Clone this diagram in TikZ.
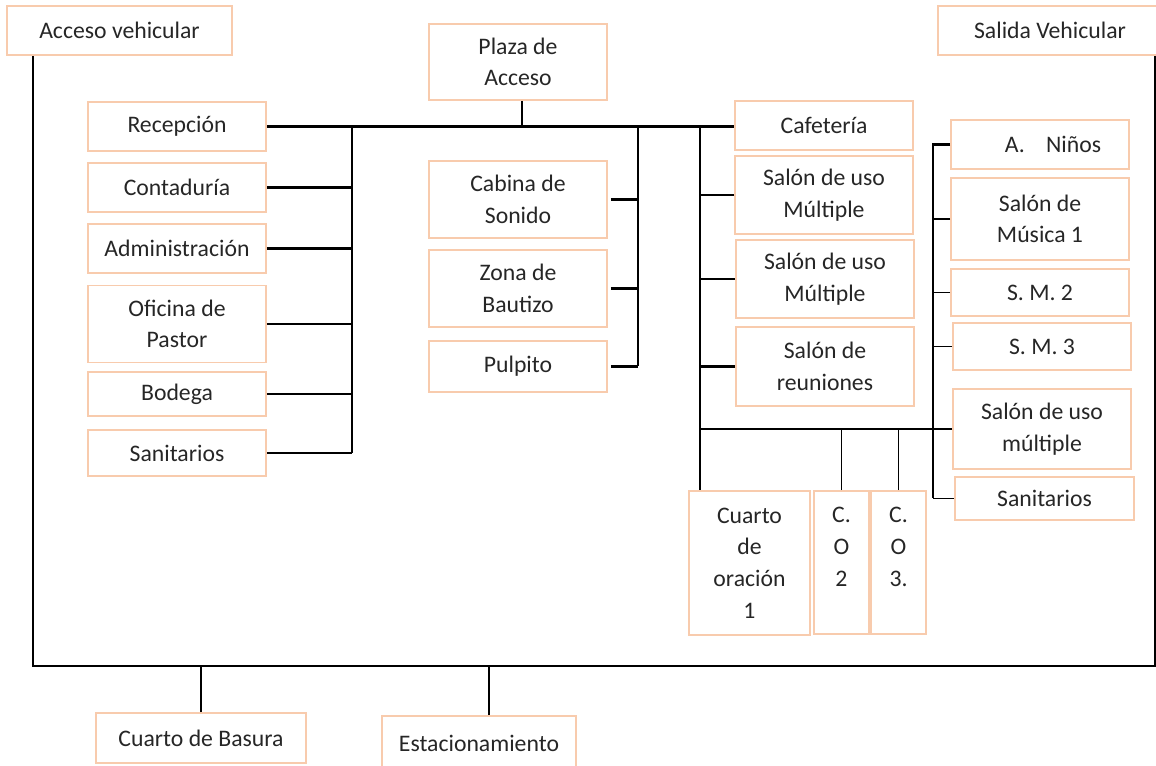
\documentclass[tikz,border=0pt]{standalone}
\usepackage{fontspec}
\setmainfont{Carlito}
\usetikzlibrary{calc}
\definecolor{peach}{HTML}{F8CBAD}
\definecolor{ink}{HTML}{262626}

\begin{document}
\begin{tikzpicture}[x=0.02cm,y=-0.02cm,
    room/.style={draw=peach,line width=0.9pt,text=ink,align=center,
      minimum width=3.56cm,minimum height=0.98cm,inner sep=0pt,
      font=\fontsize{13.5}{18}\selectfont},
    tall/.style={room,minimum height=1.54cm},
    bus/.style={line width=1.4pt},
    tap/.style={line width=0.7pt}]
    \useasboundingbox (0,0) rectangle (1156,766);

    \node[room,minimum width=4.5cm]  (acc) at (119.5,30.5) {Acceso vehicular};
    \node[room,minimum width=4.48cm] (sal) at (1050,30.5)  {Salida Vehicular};
    \node[tall,minimum height=1.52cm] (plaza) at (518,62) {Plaza de\\Acceso};

    \node[room] (recep)  at (177,126.5) {Recepción};
    \node[room] (conta)  at (177,187.5) {Contaduría};
    \node[room] (admin)  at (177,248.5) {Administración};
    \node[tall] (ofic)   at (177,324)   {Oficina de\\Pastor};
    \node[room,minimum height=0.88cm] (bodega) at (177,394) {Bodega};
    \node[room,minimum height=0.92cm] (sanl)   at (177,453) {Sanitarios};

    \node[tall] (cabina)  at (518,199.5) {Cabina de\\Sonido};
    \node[tall] (bautizo) at (518,288.5) {Zona de\\Bautizo};
    \node[room,minimum height=1.02cm] (pulpito) at (518,366.5) {Pulpito};

    \node[room] (cafe) at (824,125.5) {Cafetería};
    \node[tall,minimum height=1.56cm] (usoa) at (824,195)   {Salón de uso\\Múltiple};
    \node[tall,minimum height=1.56cm] (usob) at (825,279)   {Salón de uso\\Múltiple};
    \node[tall,minimum height=1.58cm] (reun) at (825,366.5) {Salón de\\reuniones};

    \node[room] (ninos) at (1040,144.5) {\hspace{1.1em}A.\hspace{0.9em}Niños};
    \node[tall,minimum height=1.64cm] (musica) at (1040,219)   {Salón de\\Música 1};
    \node[room,minimum height=0.94cm] (smdos)  at (1040,292.5) {S. M. 2};
    \node[room,minimum height=0.94cm] (smtres) at (1042,346.5) {S. M. 3};
    \node[tall,minimum height=1.6cm]  (usoc)   at (1042,429)   {Salón de uso\\múltiple};
    \node[room,minimum width=3.58cm,minimum height=0.86cm] (sanr) at (1044.5,498.5) {Sanitarios};

    \node[room,minimum width=2.42cm,minimum height=2.88cm] (oraa) at (749.5,563) {Cuarto\\de\\oración\\1};
    \node[room,minimum width=1.1cm,minimum height=2.86cm]  (orab) at (841.5,562.5) {C.\\O\\2\\\mbox{}};
    \node[room,minimum width=1.1cm,minimum height=2.86cm]  (orac) at (898.5,562.5) {C.\\O\\3.\\\mbox{}};

    \node[room,minimum width=4.2cm,minimum height=1cm]     (basura) at (201,738) {Cuarto de Basura};
    \node[room,minimum width=3.88cm,minimum height=1.08cm] (estac)  at (479,743) {Estacionamiento};

    \coordinate (lcorner) at (33,666);
    \coordinate (rcorner) at (1155,666);
    \coordinate (lbus) at (352,127);
    \coordinate (cbus) at (638,127);
    \coordinate (rbus) at (700,127);
    \coordinate (fbus) at (933,144);

    \draw[bus] (acc.south -| lcorner) -- (lcorner) -- (rcorner) -- (sal.south -| rcorner);
    \draw[bus] (basura.north) -- (basura.north |- lcorner);
    \draw[bus] ([xshift=0.2cm]estac.north) -- ([xshift=0.2cm]estac.north |- lcorner);

    \draw[bus] (recep.east) -- (recep.east -| cafe.west);
    \draw[bus] ([xshift=0.08cm]plaza.south) -- ([xshift=0.08cm]plaza.south |- recep.east);

    \draw[bus] (lbus) -- (lbus |- sanl.east);
    \foreach \n in {conta,admin,ofic,bodega,sanl} {\draw[bus] (\n.east) -- (\n.east -| lbus);};

    \draw[bus] (cbus) -- (cbus |- pulpito.east);
    \foreach \n in {cabina,bautizo,pulpito} {\draw[bus] ([xshift=0.06cm]\n.east) -- (\n.east -| cbus);};

    \draw[bus] (rbus) -- (rbus |- oraa.north);
    \foreach \n in {usoa,usob,reun,usoc} {\draw[bus] (\n.west) -- (\n.west -| rbus);};
    \foreach \n in {orab,orac} {\draw[tap] (\n.north) -- (\n.north |- usoc.west);};

    \draw[bus] (ninos.west) -- (ninos.west -| fbus) -- (fbus |- sanr.west);
    \draw[tap] (sanr.west) -- (sanr.west -| fbus);
    \foreach \n in {musica,smdos,smtres} {\draw[tap] (\n.west) -- (\n.west -| fbus);};
\end{tikzpicture}
\end{document}
